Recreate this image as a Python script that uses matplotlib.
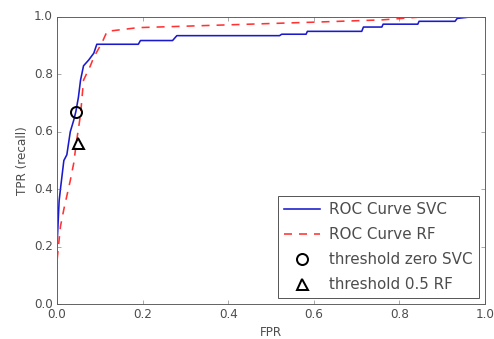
import matplotlib
matplotlib.use("Agg")
import matplotlib.pyplot as plt

plt.style.use("classic")

# SVC ROC curve vertices (FPR, TPR)
fpr_svc = [0.0, 0.0, 0.005, 0.008, 0.012, 0.016, 0.023, 0.031, 0.039, 0.044, 0.050,
           0.055, 0.062, 0.074, 0.086, 0.093, 0.19, 0.195, 0.27, 0.28, 0.52, 0.525,
           0.582, 0.585, 0.712, 0.716, 0.759, 0.762, 0.843, 0.846, 0.93, 0.935, 0.965, 1.0]
tpr_svc = [0.0, 0.20, 0.36, 0.40, 0.45, 0.50, 0.52, 0.60, 0.64, 0.67, 0.72,
           0.78, 0.83, 0.85, 0.874, 0.905, 0.905, 0.918, 0.918, 0.935, 0.935, 0.94,
           0.94, 0.95, 0.95, 0.965, 0.965, 0.975, 0.975, 0.985, 0.985, 0.995, 1.0, 1.0]

# RF ROC curve vertices
fpr_rf = [0.0, 0.0, 0.008, 0.016, 0.031, 0.039, 0.045, 0.055, 0.062, 0.078, 0.086,
          0.105, 0.117, 0.19, 0.30, 0.45, 0.60, 0.76, 0.85, 1.0]
tpr_rf = [0.0, 0.15, 0.27, 0.33, 0.43, 0.49, 0.56, 0.66, 0.78, 0.83, 0.86,
          0.91, 0.95, 0.963, 0.968, 0.975, 0.982, 0.99, 1.0, 1.0]

# threshold markers
thr_svc = (0.044, 0.67)
thr_rf = (0.048, 0.56)

fig = plt.figure(figsize=(494 / 72, 339 / 72), dpi=72, facecolor="white")
ax = fig.add_axes([57 / 494, 35 / 339, 428 / 494, 287 / 339])

ax.plot(fpr_svc, tpr_svc, color="#1a1acc", lw=1.6, label="ROC Curve SVC")
ax.plot(fpr_rf, tpr_rf, color="#ff3333", lw=1.6, ls="--", dashes=(8, 7), label="ROC Curve RF")
ax.plot(thr_svc[0], thr_svc[1], "o", markersize=11, label="threshold zero SVC",
        fillstyle="none", c="k", mew=2)
ax.plot(thr_rf[0], thr_rf[1], "^", markersize=11, label="threshold 0.5 RF",
        fillstyle="none", c="k", mew=2)

ax.set_xlim(0, 1)
ax.set_ylim(0, 1)
ax.set_xticks([0.0, 0.2, 0.4, 0.6, 0.8, 1.0])
ax.set_yticks([0.0, 0.2, 0.4, 0.6, 0.8, 1.0])
ax.set_xticklabels(["0.0", "0.2", "0.4", "0.6", "0.8", "1.0"])
ax.set_yticklabels(["0.0", "0.2", "0.4", "0.6", "0.8", "1.0"])
ax.tick_params(labelsize=12, colors="0.35", labelcolor="0.3")
for s in ax.spines.values():
    s.set_color("0.4")
ax.set_xlabel("FPR", fontsize=12, color="0.3")
ax.set_ylabel("TPR (recall)", fontsize=12, color="0.3")

leg = ax.legend(loc=4, numpoints=1, fontsize=15.1, borderaxespad=0.4,
                labelspacing=0.65, handlelength=2.4, handletextpad=0.6,
                borderpad=0.4)
leg.get_frame().set_edgecolor("0.35")
for t in leg.get_texts():
    t.set_color("0.3")

fig.savefig("out.png", dpi=72, facecolor="white")
